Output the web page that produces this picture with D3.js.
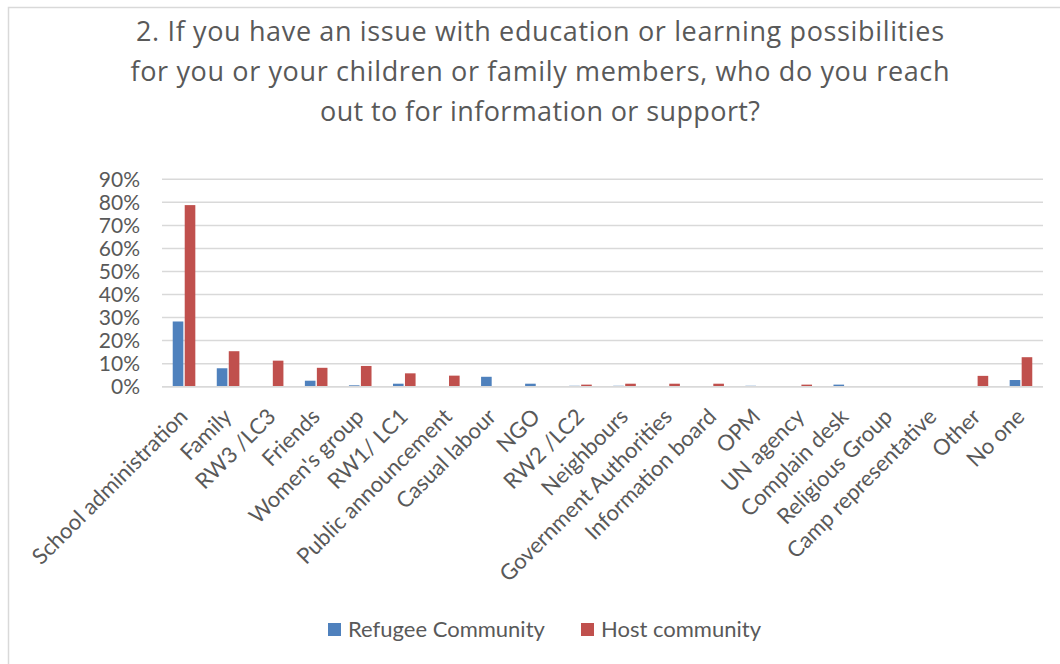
<!DOCTYPE html>
<html>
<head>
<meta charset="utf-8">
<script src="https://cdn.jsdelivr.net/npm/d3@7"></script>
<style>
  html, body { margin: 0; padding: 0; background: #fff; }
  svg { display: block; }
</style>
</head>
<body>
<svg id="chart" width="1060" height="664"></svg>
<script>
// Survey question 2 – sources of information/support on education issues
const titleLines = [
  "2. If you have an issue with education or learning possibilities",
  "for you or your children or family members, who do you reach",
  "out to for information or support?"
];
const titleWidths = [808, 819, 440];

const categories = [
  "School administration", "Family", "RW3 /LC3", "Friends", "Women's group",
  "RW1/ LC1", "Public announcement", "Casual labour", "NGO", "RW2 /LC2",
  "Neighbours", "Government Authorities", "Information board", "OPM",
  "UN agency", "Complain desk", "Religious Group", "Camp representative",
  "Other", "No one"
];

const seriesNames = ["Refugee Community", "Host community"];
const seriesColors = ["#4F81BD", "#C0504D"];

// shares of respondents (fraction)
const refugeeValues = [0.283, 0.080, 0.003, 0.026, 0.006, 0.013, 0.000, 0.043, 0.013, 0.004,
                       0.004, 0.000, 0.000, 0.004, 0.003, 0.009, 0.003, 0.003, 0.003, 0.029];
const hostValues    = [0.788, 0.154, 0.113, 0.082, 0.090, 0.058, 0.048, 0.000, 0.000, 0.009,
                       0.013, 0.013, 0.013, 0.000, 0.009, 0.000, 0.000, 0.000, 0.047, 0.128];

const yTicks = [0, 0.1, 0.2, 0.3, 0.4, 0.5, 0.6, 0.7, 0.8, 0.9];

const svg = d3.select("#chart");
const textColor = "#595959";
const gridColor = "#d9d9d9";
const labelFont = "Lato, 'Open Sans', sans-serif";

// chart frame
svg.append("rect")
  .attr("x", 8.5).attr("y", 7.5)
  .attr("width", 1100).attr("height", 700)
  .attr("fill", "#fff")
  .attr("stroke", gridColor).attr("stroke-width", 1.5);

// title
svg.append("g").selectAll("text")
  .data(titleLines)
  .join("text")
  .attr("x", 540)
  .attr("y", (d, i) => 41 + i * 40)
  .attr("text-anchor", "middle")
  .attr("textLength", (d, i) => titleWidths[i])
  .attr("lengthAdjust", "spacing")
  .attr("fill", textColor)
  .style("font-family", "'Open Sans', sans-serif")
  .style("font-size", "27px")
  .text(d => d);

const plot = { left: 162, right: 1043, top: 179.3, bottom: 386.7 };

const x = d3.scaleBand()
  .domain(categories)
  .range([plot.left, plot.right])
  .paddingInner(0.487)
  .paddingOuter(0.2435);

const xSub = d3.scaleBand()
  .domain(seriesNames)
  .range([0, x.bandwidth()])
  .paddingInner(0.115);

const y = d3.scaleLinear()
  .domain([0, 0.9])
  .range([plot.bottom, plot.top]);

// gridlines
svg.append("g").selectAll("line")
  .data(yTicks)
  .join("line")
  .attr("x1", plot.left).attr("x2", plot.right)
  .attr("y1", d => y(d)).attr("y2", d => y(d))
  .attr("stroke", gridColor).attr("stroke-width", 1.5);

// y axis labels
const yAxis = d3.axisLeft(y)
  .tickValues(yTicks)
  .tickFormat(d3.format(".0%"))
  .tickSize(0)
  .tickPadding(22);

const yAxisG = svg.append("g")
  .attr("transform", `translate(${plot.left},0)`)
  .call(yAxis);
yAxisG.select(".domain").remove();
yAxisG.selectAll("text")
  .attr("fill", textColor)
  .style("font-family", labelFont)
  .style("font-size", "21px");

// bars
const rows = categories.map((c, i) => ({ cat: c, vals: [refugeeValues[i], hostValues[i]] }));

svg.append("g").selectAll("g")
  .data(rows)
  .join("g")
  .attr("transform", d => `translate(${x(d.cat)},0)`)
  .selectAll("rect")
  .data(d => d.vals.map((v, j) => ({ name: seriesNames[j], v, color: seriesColors[j] })))
  .join("rect")
  .attr("x", d => xSub(d.name))
  .attr("width", xSub.bandwidth())
  .attr("y", d => y(d.v))
  .attr("height", d => y(0) - y(d.v))
  .attr("fill", d => d.color);

// x axis baseline
svg.append("line")
  .attr("x1", plot.left).attr("x2", plot.right)
  .attr("y1", y(0)).attr("y2", y(0))
  .attr("stroke", gridColor).attr("stroke-width", 1.5);

// rotated category labels
svg.append("g").selectAll("text")
  .data(categories)
  .join("text")
  .attr("transform", d => `translate(${x(d) + x.bandwidth() / 2 + 5},418) rotate(-45)`)
  .attr("text-anchor", "end")
  .attr("fill", textColor)
  .style("font-family", labelFont)
  .style("font-size", "22px")
  .text(d => d);

// legend
const legendItems = [
  { name: seriesNames[0], color: seriesColors[0], x: 328 },
  { name: seriesNames[1], color: seriesColors[1], x: 581 }
];
const lg = svg.append("g").selectAll("g")
  .data(legendItems)
  .join("g")
  .attr("transform", d => `translate(${d.x},623)`);
lg.append("rect")
  .attr("width", 13).attr("height", 13)
  .attr("fill", d => d.color);
lg.append("text")
  .attr("x", 20).attr("y", 14)
  .attr("fill", textColor)
  .style("font-family", labelFont)
  .style("font-size", "22px")
  .text(d => d.name);
</script>
</body>
</html>
